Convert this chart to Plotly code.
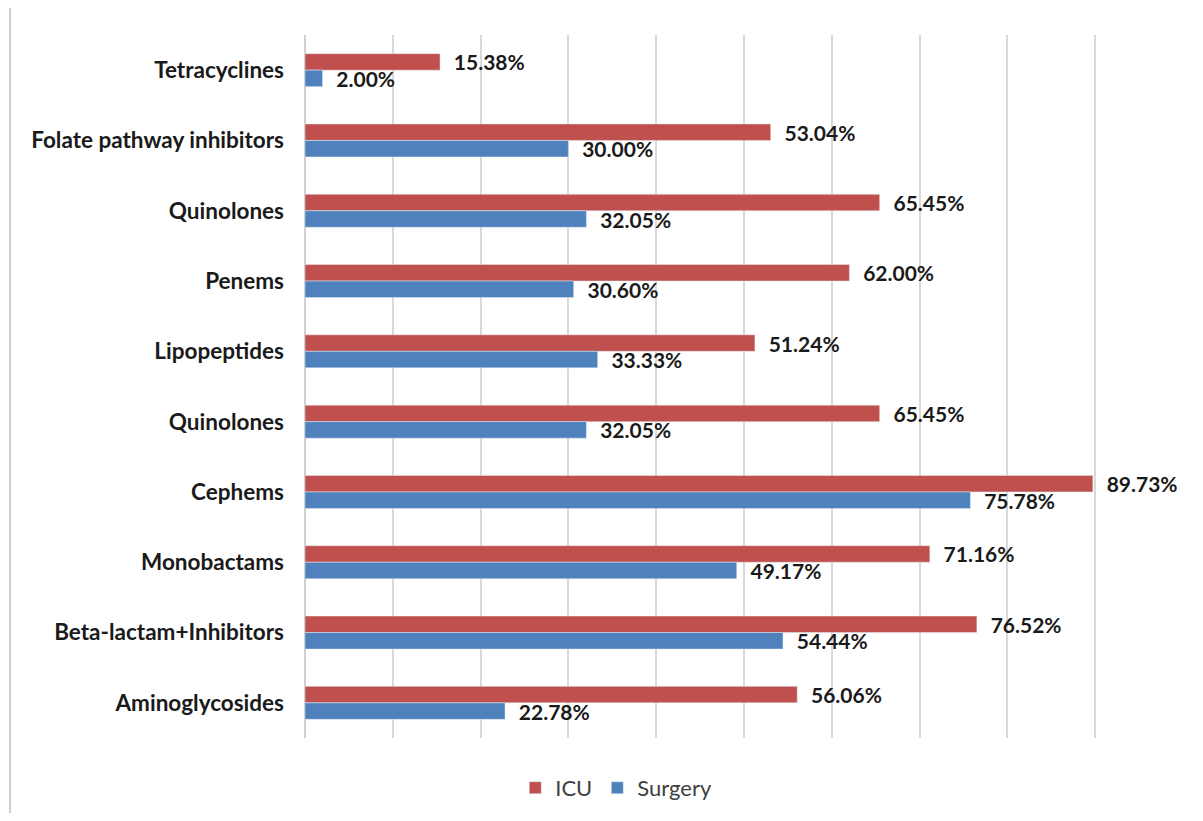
import plotly.graph_objects as go

categories = ["Tetracyclines", "Folate pathway inhibitors", "Quinolones", "Penems",
              "Lipopeptides", "Quinolones", "Cephems", "Monobactams",
              "Beta-lactam+Inhibitors", "Aminoglycosides"]
icu = [15.38, 53.04, 65.45, 62.00, 51.24, 65.45, 89.73, 71.16, 76.52, 56.06]
surgery = [2.00, 30.00, 32.05, 30.60, 33.33, 32.05, 75.78, 49.17, 54.44, 22.78]

pos = list(range(len(categories)))

FONT = "Lato, Open Sans, sans-serif"
label_font = dict(family=FONT, size=21, color="#1a1a1a")
PAD = "\u00a0\u00a0"

W, H = 1187, 805
L, R, T, B = 297, 98, 27, 75
pw, ph = W - L - R, H - T - B

fig = go.Figure()
fig.add_trace(go.Bar(
    y=pos, x=icu, orientation="h", name="ICU",
    marker=dict(color="#C0504D"),
    texttemplate=PAD + "<b>%{x:.2f}%</b>", textposition="outside",
    textfont=label_font, cliponaxis=False, constraintext="none",
))
fig.add_trace(go.Bar(
    y=pos, x=surgery, orientation="h", name="Surgery",
    marker=dict(color="#4F81BD"),
    texttemplate=PAD + "<b>%{x:.2f}%</b>", textposition="outside",
    textfont=label_font, cliponaxis=False, constraintext="none",
))

fig.update_layout(
    width=W, height=H,
    margin=dict(l=L, r=R, t=T, b=B, autoexpand=False),
    paper_bgcolor="white", plot_bgcolor="white",
    barmode="group", bargap=0.53, bargroupgap=0,
    font=dict(family=FONT),
    showlegend=True,
    legend=dict(orientation="h", x=0.393, xanchor="center", y=-0.071, yanchor="middle",
                font=dict(size=22, color="#404040"), itemwidth=30,
                traceorder="normal"),
    shapes=[dict(type="line", xref="paper", yref="paper",
                 x0=(2 - L) / pw, x1=(2 - L) / pw,
                 y0=(H - B) / ph, y1=-B / ph,
                 line=dict(color="#d0d0d0", width=2))],
)
fig.update_xaxes(range=[0, 90.2], dtick=10, showticklabels=False,
                 showgrid=True, gridcolor="#d9d9d9", gridwidth=2,
                 zeroline=True, zerolinecolor="#d0d0d0", zerolinewidth=2,
                 showline=False, fixedrange=True)
fig.update_yaxes(tickvals=pos, ticktext=[f"<b>{c}</b>" for c in categories],
                 range=[9.5, -0.5], showgrid=False, zeroline=False, showline=False,
                 ticks="", ticklabelstandoff=20,
                 tickfont=dict(family=FONT, size=22.5, color="#1a1a1a"))

fig.write_html("out.html")
